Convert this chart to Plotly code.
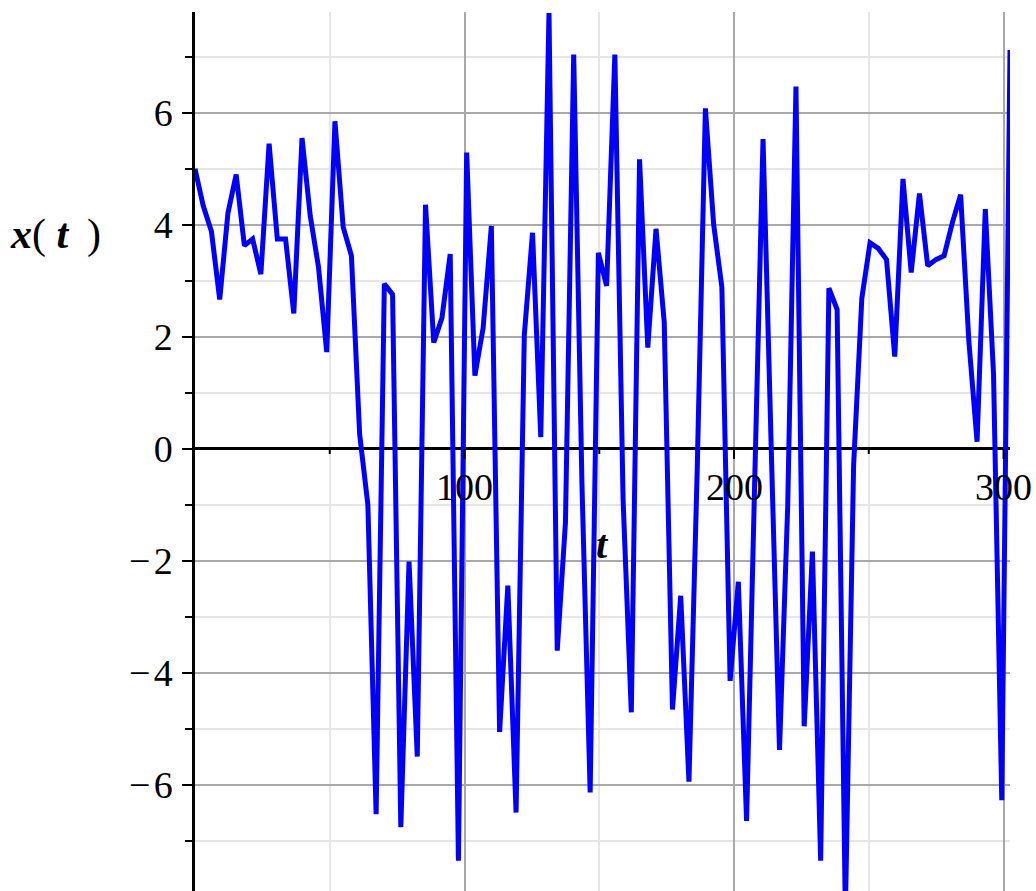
import numpy as np
import plotly.graph_objects as go

t_end = 302.4
x_vals = [5.00, 4.34, 3.88, 2.67, 4.21, 4.90, 3.63, 3.75, 3.12, 5.45,
          3.75, 3.75, 2.42, 5.55, 4.16, 3.25, 1.73, 5.85, 3.96, 3.45,
          0.26, -1.00, -6.52, 2.95, 2.76, -6.75, -2.01, -5.49, 4.36, 1.90,
          2.34, 3.48, -7.35, 5.29, 1.31, 2.16, 3.98, -5.05, -2.44, -6.49,
          2.03, 3.86, 0.21, 7.78, -3.60, -1.31, 7.04, -0.60, -6.13, 3.50,
          2.91, 7.04, -0.90, -4.70, 5.17, 1.81, 3.93, 2.26, -4.65, -2.62,
          -5.94, -0.40, 6.08, 4.01, 2.89, -4.14, -2.37, -6.64, -0.50, 5.53,
          0.00, -5.37, -1.00, 6.47, -4.95, -1.83, -7.35, 2.87, 2.49, -8.30,
          -0.30, 2.69, 3.68, 3.58, 3.38, 1.65, 4.82, 3.15, 4.56, 3.27,
          3.38, 3.45, 4.04, 4.54, 1.93, 0.13, 4.28, 1.33, -6.27, 7.12]
t_vals = np.linspace(0, t_end, len(x_vals))

x_major_ticks = [100, 200, 300]
x_major_labels = ["100", "200", "300"]
x_minor_ticks = [50, 150, 250]
y_tick_vals = [-6, -4, -2, 0, 2, 4, 6]
y_tick_text = ["\u2212\u200a6", "\u2212\u200a4", "\u2212\u200a2", "0", "2", "4", "6"]

y_range = [-7.89, 7.80]

FONT = "Liberation Serif"
MAJOR_GRID = "#a9a9a9"
MINOR_GRID = "#e6e6e6"

fig = go.Figure()
fig.add_trace(go.Scatter(x=t_vals, y=x_vals, mode="lines",
                         line=dict(color="#0000ff", width=5),
                         hoverinfo="skip", showlegend=False))

shapes = []
for tv in x_major_ticks:
    shapes.append(dict(type="line", xref="x", yref="y", ysizemode="pixel", yanchor=0,
                       x0=tv, x1=tv, y0=0, y1=-10, line=dict(color="black", width=2)))
for tv in x_minor_ticks:
    shapes.append(dict(type="line", xref="x", yref="y", ysizemode="pixel", yanchor=0,
                       x0=tv, x1=tv, y0=0, y1=-5, line=dict(color="black", width=2)))

annotations = []
for tv, lab in zip(x_major_ticks, x_major_labels):
    annotations.append(dict(x=tv, y=0, xref="x", yref="y", text=lab, showarrow=False,
                            xanchor="center", yanchor="middle", yshift=-38,
                            font=dict(family=FONT, size=38, color="black")))
annotations.append(dict(x=t_end / 2, y=0, xref="x", yref="y", text="<b><i>t</i></b>",
                        showarrow=False, xanchor="center", yanchor="middle", yshift=-96,
                        font=dict(family=FONT, size=40, color="black")))
annotations.append(dict(x=-0.171, y=3.82, xref="paper", yref="y",
                        text="<b><i>x</i></b>( <b><i>t</i></b>\u2009 )",
                        showarrow=False, xanchor="center", yanchor="middle",
                        font=dict(family=FONT, size=42, color="black")))

fig.update_layout(
    width=1036, height=891,
    margin=dict(l=195, r=26, t=12, b=0, pad=0),
    plot_bgcolor="white", paper_bgcolor="white",
    shapes=shapes, annotations=annotations,
    xaxis=dict(range=[0, t_end], showgrid=True, gridcolor=MAJOR_GRID, gridwidth=2,
               tick0=0, dtick=100, showticklabels=False, ticks="", zeroline=False,
               showline=False, automargin=False,
               minor=dict(dtick=50, tick0=0, showgrid=True, gridcolor=MINOR_GRID, gridwidth=2)),
    yaxis=dict(range=y_range, showgrid=True, gridcolor=MAJOR_GRID, gridwidth=2,
               tickmode="array", tickvals=y_tick_vals, ticktext=y_tick_text,
               ticks="outside", ticklen=10, tickwidth=2, tickcolor="black",
               ticklabelstandoff=2, automargin=False,
               tickfont=dict(family=FONT, size=38, color="black"),
               showline=True, linecolor="black", linewidth=2.5,
               zeroline=True, zerolinecolor="black", zerolinewidth=2.5,
               minor=dict(dtick=1, tick0=0, ticks="outside", ticklen=7, tickwidth=2,
                          tickcolor="black", showgrid=True, gridcolor=MINOR_GRID, gridwidth=2)),
)

fig.write_html("out.html", config={"displayModeBar": False},
               post_script="document.body.style.margin='0';document.body.style.overflow='hidden';")
